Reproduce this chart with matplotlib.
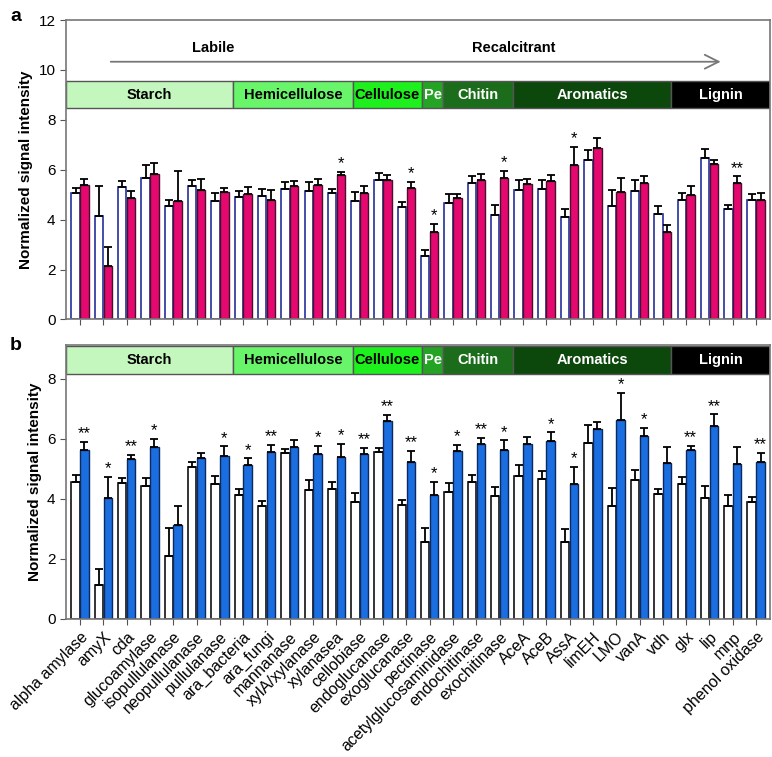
import numpy as np
import matplotlib
matplotlib.use("Agg")
import matplotlib.pyplot as plt

plt.rcParams['font.family'] = ['Liberation Sans', 'DejaVu Sans']

genes = ["alpha amylase", "amyX", "cda", "glucoamylase", "isopullulanase",
         "neopullulanase", "pullulanase", "ara_bacteria", "ara_fungi", "mannanase",
         "xylA/xylanase", "xylanasea", "cellobiase", "endoglucanase", "exoglucanase",
         "pectinase", "acetylglucosaminidase", "endochitinase", "exochitinase", "AceA",
         "AceB", "AssA", "limEH", "LMO", "vanA", "vdh", "glx", "lip", "mnp",
         "phenol oxidase"]

# panel a
a_ctrl = [5.08, 4.15, 5.30, 5.68, 4.55, 5.33, 4.76, 4.91, 4.96, 5.24,
          5.16, 5.08, 4.76, 5.60, 4.49, 2.56, 4.65, 5.47, 4.20, 5.17,
          5.23, 4.09, 6.41, 4.53, 5.16, 4.24, 4.77, 6.47, 4.43, 4.77]
a_ctrl_err = [0.20, 1.20, 0.26, 0.52, 0.25, 0.24, 0.31, 0.24, 0.25, 0.28,
              0.36, 0.15, 0.35, 0.29, 0.23, 0.21, 0.36, 0.26, 0.40, 0.40,
              0.37, 0.32, 0.40, 0.64, 0.44, 0.29, 0.31, 0.37, 0.16, 0.26]
a_trt = [5.40, 2.15, 4.85, 5.81, 4.76, 5.19, 5.11, 5.01, 4.80, 5.35,
         5.40, 5.79, 5.08, 5.57, 5.25, 3.49, 4.87, 5.57, 5.67, 5.43,
         5.56, 6.21, 6.89, 5.09, 5.47, 3.51, 4.97, 6.24, 5.47, 4.80]
a_trt_err = [0.23, 0.75, 0.31, 0.48, 1.20, 0.42, 0.17, 0.28, 0.37, 0.18,
             0.21, 0.13, 0.25, 0.23, 0.26, 0.34, 0.16, 0.24, 0.29, 0.21,
             0.23, 0.72, 0.39, 0.58, 0.26, 0.29, 0.39, 0.16, 0.26, 0.28]
a_sig = ["", "", "", "", "", "", "", "", "", "",
         "", "*", "", "", "*", "*", "", "", "*", "",
         "", "*", "", "", "", "", "", "", "**", ""]

# panel b
b_ctrl = [4.57, 1.12, 4.51, 4.42, 2.09, 5.07, 4.49, 4.12, 3.77, 5.52,
          4.30, 4.33, 3.89, 5.56, 3.78, 2.57, 4.23, 4.56, 4.10, 4.76,
          4.64, 2.57, 5.84, 3.76, 4.61, 4.14, 4.49, 4.01, 3.76, 3.88]
b_ctrl_err = [0.22, 0.52, 0.19, 0.28, 0.93, 0.14, 0.27, 0.19, 0.14, 0.15,
              0.33, 0.24, 0.29, 0.14, 0.18, 0.45, 0.30, 0.23, 0.28, 0.35,
              0.29, 0.42, 0.62, 0.58, 0.33, 0.17, 0.22, 0.40, 0.35, 0.16]
b_trt = [5.63, 4.01, 5.32, 5.71, 3.11, 5.37, 5.43, 5.11, 5.54, 5.72,
         5.50, 5.39, 5.48, 6.60, 5.21, 4.12, 5.58, 5.82, 5.62, 5.81,
         5.92, 4.48, 6.31, 6.62, 6.10, 5.20, 5.62, 6.42, 5.16, 5.22]
b_trt_err = [0.25, 0.71, 0.15, 0.27, 0.65, 0.16, 0.31, 0.23, 0.26, 0.24,
             0.27, 0.43, 0.20, 0.19, 0.39, 0.44, 0.21, 0.20, 0.32, 0.26,
             0.29, 0.59, 0.26, 0.91, 0.26, 0.51, 0.14, 0.39, 0.57, 0.31]
b_sig = ["**", "*", "**", "*", "", "", "*", "*", "**", "",
         "*", "*", "**", "**", "**", "*", "*", "**", "*", "",
         "*", "*", "", "*", "*", "", "**", "**", "", "**"]

# substrate classes (band edges in category units)
bands = ["Starch", "Hemicellulose", "Cellulose", "Pe", "Chitin", "Aromatics", "Lignin"]
band_edges = [-0.6, 6.57, 11.69, 14.69, 15.57, 18.57, 25.36, 29.6]
band_colors = ["#c4f7be", "#69f56a", "#1ef01e", "#25a325", "#1b6d1b", "#0c480c", "#000000"]
band_text = ["black", "black", "black", "white", "white", "white", "white"]

x = np.arange(len(genes))
w = 0.36
off = 0.19

fig = plt.figure(figsize=(7.72, 7.57), dpi=100)
ax_a = fig.add_axes([0.0855, 0.578, 0.912, 0.3955])
ax_b = fig.add_axes([0.0855, 0.1827, 0.912, 0.3616])


def draw_panel(ax, ctrl, ctrl_err, trt, trt_err, sig, ctrl_edge, trt_color, trt_edge, band_lo, band_hi):
    zeros = np.zeros(len(x))
    ax.bar(x - off, ctrl, w, color="white", edgecolor=ctrl_edge, linewidth=1.2, zorder=2)
    ax.bar(x + off, trt, w, color=trt_color, edgecolor=trt_edge, linewidth=1.0, zorder=2)
    ax.errorbar(x - off, ctrl, yerr=[zeros, ctrl_err], fmt="none", ecolor="black",
                elinewidth=1.3, capsize=3.2, capthick=1.3, zorder=3)
    ax.errorbar(x + off, trt, yerr=[zeros, trt_err], fmt="none", ecolor="black",
                elinewidth=1.3, capsize=3.2, capthick=1.3, zorder=3)
    for i, s in enumerate(sig):
        if s:
            ax.text(x[i] + off, trt[i] + trt_err[i] + 0.02, s, ha="center", va="bottom",
                    fontsize=12)
    for j, name in enumerate(bands):
        l, r = band_edges[j], band_edges[j + 1]
        ax.add_patch(plt.Rectangle((l, band_lo), r - l, band_hi - band_lo,
                                   facecolor=band_colors[j], edgecolor="#555555",
                                   linewidth=1.0, zorder=1))
        ax.text((l + r) / 2, (band_lo + band_hi) / 2, name, ha="center", va="center",
                fontsize=10.5, fontweight="bold", color=band_text[j], zorder=4)
    ax.set_xlim(-0.6, 29.6)
    ax.set_xticks(x)
    ax.set_ylabel("Normalized signal intensity", fontsize=11, fontweight="bold")
    ax.tick_params(axis="both", direction="out", labelsize=11, length=4, color="#555555")
    for sp in ax.spines.values():
        sp.set_color("#777777")
        sp.set_linewidth(1.2)


draw_panel(ax_a, a_ctrl, a_ctrl_err, a_trt, a_trt_err, a_sig,
           "#25309a", "#e5086f", "#4a1030", 8.46, 9.56)
ax_a.set_ylim(0, 12)
ax_a.set_yticks([0, 2, 4, 6, 8, 10, 12])
ax_a.set_xticklabels([])
ax_a.annotate("", xy=(27.6, 10.33), xytext=(1.2, 10.33),
              arrowprops=dict(arrowstyle="->", color="#777777", lw=1.3,
                              mutation_scale=25))
ax_a.text(5.7, 10.9, "Labile", ha="center", va="center", fontsize=10.5, fontweight="bold")
ax_a.text(18.6, 10.9, "Recalcitrant", ha="center", va="center", fontsize=10.5,
          fontweight="bold")

draw_panel(ax_b, b_ctrl, b_ctrl_err, b_trt, b_trt_err, b_sig,
           "#111111", "#1b6ee0", "#0d2a60", 8.16, 9.07)
ax_b.set_ylim(0, 9.12)
ax_b.set_yticks([0, 2, 4, 6, 8])
ax_b.set_xticklabels(genes, rotation=45, ha="right", rotation_mode="anchor", fontsize=11.5)

fig.text(0.013, 0.99, "a", fontsize=14, fontweight="bold", va="top")
fig.text(0.013, 0.555, "b", fontsize=14, fontweight="bold", va="top")

fig.savefig("out.png", dpi=100)
